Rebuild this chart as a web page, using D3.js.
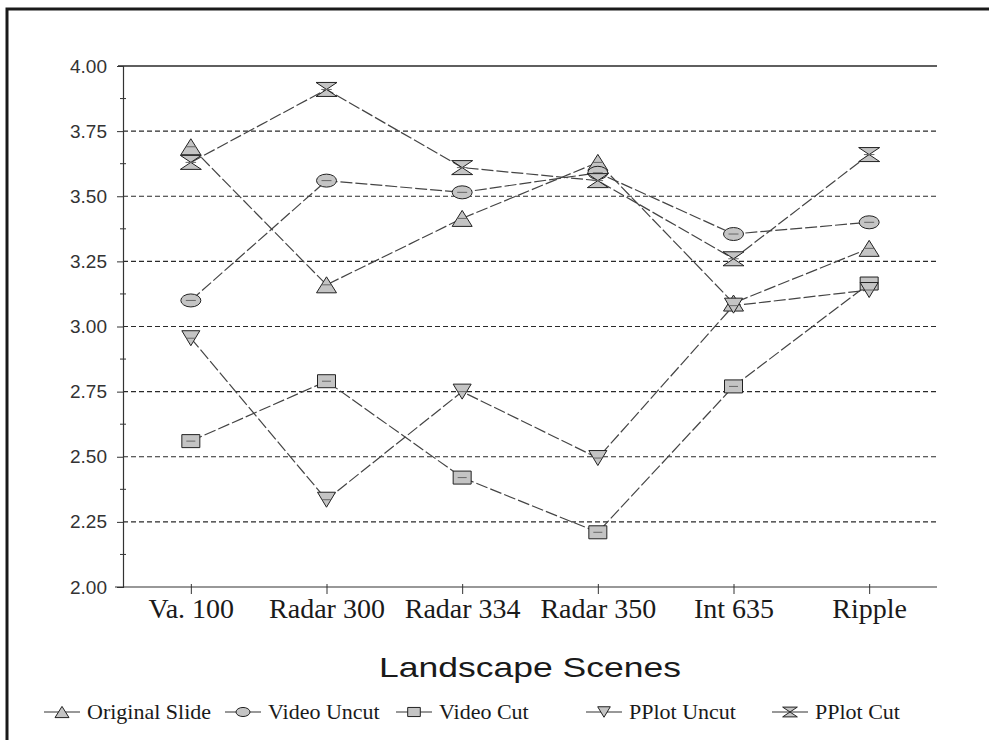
<!DOCTYPE html>
<html>
<head>
<meta charset="utf-8">
<script src="https://cdn.jsdelivr.net/npm/d3@7"></script>
<style>
  body { margin: 0; background: #fff; }
  svg { display: block; }
</style>
</head>
<body>
<div id="viz"></div>
<script>
// scenes on the x axis
const categories = ["Va. 100", "Radar 300", "Radar 334", "Radar 350", "Int 635", "Ripple"];

// mean ratings
const originalSlide = [3.69, 3.16, 3.415, 3.63, 3.09, 3.30];
const videoUncut    = [3.10, 3.56, 3.515, 3.59, 3.355, 3.40];
const videoCut      = [2.56, 2.79, 2.42, 2.21, 2.77, 3.165];
const pplotUncut    = [2.955, 2.335, 2.75, 2.495, 3.08, 3.14];
const pplotCut      = [3.63, 3.91, 3.61, 3.56, 3.26, 3.66];

const seriesNames = ["Original Slide", "Video Uncut", "Video Cut", "PPlot Uncut", "PPlot Cut"];
const yTicks = [2.00, 2.25, 2.50, 2.75, 3.00, 3.25, 3.50, 3.75, 4.00];
const yMinor = [2.125, 2.375, 2.625, 2.875, 3.125, 3.375, 3.625, 3.875];

const series = [
  {name: seriesNames[0], values: originalSlide, shape: "triUp"},
  {name: seriesNames[1], values: videoUncut, shape: "ellipse"},
  {name: seriesNames[2], values: videoCut, shape: "rect"},
  {name: seriesNames[3], values: pplotUncut, shape: "triDown"},
  {name: seriesNames[4], values: pplotCut, shape: "hourglass"}
];

let dimensions = {
  width: 989,
  height: 740,
  margins: {top: 66, right: 52, bottom: 153, left: 123}
};

const svg = d3.select('#viz').append('svg')
  .attr('width', dimensions.width)
  .attr('height', dimensions.height);

// frame of the scanned page (only left and top edge show)
svg.append('path')
  .attr('d', `M7,${dimensions.height} V9 H${dimensions.width}`)
  .attr('fill', 'none')
  .attr('stroke', '#1a1a1a')
  .attr('stroke-width', 3);

const xScale = d3.scalePoint()
  .domain(categories)
  .range([dimensions.margins.left, dimensions.width - dimensions.margins.right])
  .padding(0.5);

const yScale = d3.scaleLinear()
  .domain([2, 4])
  .range([dimensions.height - dimensions.margins.bottom, dimensions.margins.top]);

const x0 = xScale.range()[0], x1 = xScale.range()[1];

// grid lines, top one solid
svg.append('g')
  .selectAll('line')
  .data(yTicks.filter(d => d > 2))
  .join('line')
    .attr('x1', d => d === 4 ? x0 - 5 : x0)
    .attr('x2', x1)
    .attr('y1', d => yScale(d))
    .attr('y2', d => yScale(d))
    .attr('stroke', '#2a2a2a')
    .attr('stroke-width', d => d === 4 ? 1.3 : 1.1)
    .attr('stroke-dasharray', d => d === 4 ? null : '5,3');

// y axis
const yAxis = svg.append('g')
  .attr('transform', `translate(${x0},0)`)
  .call(d3.axisLeft(yScale).tickValues(yTicks).tickFormat(d3.format('.2f')).tickSize(6).tickPadding(10));
yAxis.select('.domain').attr('stroke', '#333').attr('stroke-width', 1.2);
yAxis.selectAll('.tick line').attr('stroke', '#333');
yAxis.selectAll('.tick text')
  .attr('font-family', '"Liberation Sans", Arial, sans-serif')
  .attr('font-size', 19)
  .attr('fill', '#333');

// minor ticks crossing the axis
svg.append('g')
  .selectAll('line')
  .data(yMinor)
  .join('line')
    .attr('x1', x0 - 3)
    .attr('x2', x0 + 3)
    .attr('y1', d => yScale(d))
    .attr('y2', d => yScale(d))
    .attr('stroke', '#333');

// x axis
const xAxis = svg.append('g')
  .attr('transform', `translate(0,${yScale(2)})`)
  .call(d3.axisBottom(xScale).tickSize(7).tickPadding(0));
xAxis.select('.domain').remove();
xAxis.append('line')
  .attr('x1', x0 - 8)
  .attr('x2', x1)
  .attr('stroke', '#333')
  .attr('stroke-width', 1.2);
xAxis.selectAll('.tick line').attr('y1', -3).attr('stroke', '#333');
xAxis.selectAll('.tick text')
  .attr('y', 31)
  .attr('dy', 0)
  .attr('font-family', '"Liberation Serif", "Times New Roman", serif')
  .attr('font-size', 28)
  .attr('fill', '#1a1a1a');

// axis title
svg.append('text')
  .attr('x', (x0 + x1) / 2)
  .attr('y', 677)
  .attr('text-anchor', 'middle')
  .attr('font-family', '"Liberation Sans", Arial, sans-serif')
  .attr('font-size', 28)
  .attr('fill', '#1a1a1a')
  .attr('textLength', 302)
  .attr('lengthAdjust', 'spacingAndGlyphs')
  .text('Landscape Scenes');

// marker outlines, w and h are full width / height
function shapePath(shape, w, h) {
  const a = w / 2, b = h / 2;
  if (shape === 'triUp') return `M0,${-b} L${a},${b} L${-a},${b} Z`;
  if (shape === 'triDown') return `M${-a},${-b} L${a},${-b} L0,${b} Z`;
  if (shape === 'rect') return `M${-a},${-b} H${a} V${b} H${-a} Z`;
  if (shape === 'hourglass') return `M${-a},${-b} H${a} L0,0 L${a},${b} H${-a} L0,0 Z`;
  // ellipse
  return `M${-a},0 A${a},${b} 0 1,0 ${a},0 A${a},${b} 0 1,0 ${-a},0 Z`;
}
const shapeSize = {
  triUp: [20, 16], triDown: [18, 15], rect: [18, 13], hourglass: [21, 14], ellipse: [20, 13]
};

const line = d3.line()
  .x((d, i) => xScale(categories[i]))
  .y(d => yScale(d));

const plot = svg.append('g');

series.forEach(s => {
  plot.append('path')
    .datum(s.values)
    .attr('d', line)
    .attr('fill', 'none')
    .attr('stroke', '#444')
    .attr('stroke-width', 1.2)
    .attr('stroke-dasharray', '12,3');
});

series.forEach(s => {
  const [w, h] = shapeSize[s.shape];
  const g = plot.append('g');
  g.selectAll('path')
    .data(s.values)
    .join('path')
      .attr('transform', (d, i) => `translate(${xScale(categories[i])},${yScale(d)})`)
      .attr('d', shapePath(s.shape, w, h))
      .attr('fill', '#c4c4c4')
      .attr('stroke', '#222')
      .attr('stroke-width', 1);
  // scan-like hatching inside the markers
  g.selectAll('line')
    .data(s.values)
    .join('line')
      .attr('x1', (d, i) => xScale(categories[i]) - w / 4)
      .attr('x2', (d, i) => xScale(categories[i]) + w / 4)
      .attr('y1', d => yScale(d))
      .attr('y2', d => yScale(d))
      .attr('stroke', '#666')
      .attr('stroke-width', 1);
});

// legend
const legendX = [62, 243, 414, 604, 790];
const legendY = 712;
const legend = svg.append('g')
  .selectAll('g')
  .data(series)
  .join('g')
    .attr('transform', (d, i) => `translate(${legendX[i]},${legendY})`);

legend.append('line')
  .attr('x1', -18).attr('x2', 18)
  .attr('y1', 0).attr('y2', 0)
  .attr('stroke', '#333')
  .attr('stroke-width', 1.2);
legend.append('path')
  .attr('d', d => shapePath(d.shape, shapeSize[d.shape][0] * 0.7, shapeSize[d.shape][1] * 0.7))
  .attr('fill', '#c4c4c4')
  .attr('stroke', '#222');
legend.append('text')
  .attr('x', 25)
  .attr('y', 7)
  .attr('font-family', '"Liberation Serif", "Times New Roman", serif')
  .attr('font-size', 22)
  .attr('fill', '#1a1a1a')
  .text(d => d.name);
</script>
</body>
</html>
